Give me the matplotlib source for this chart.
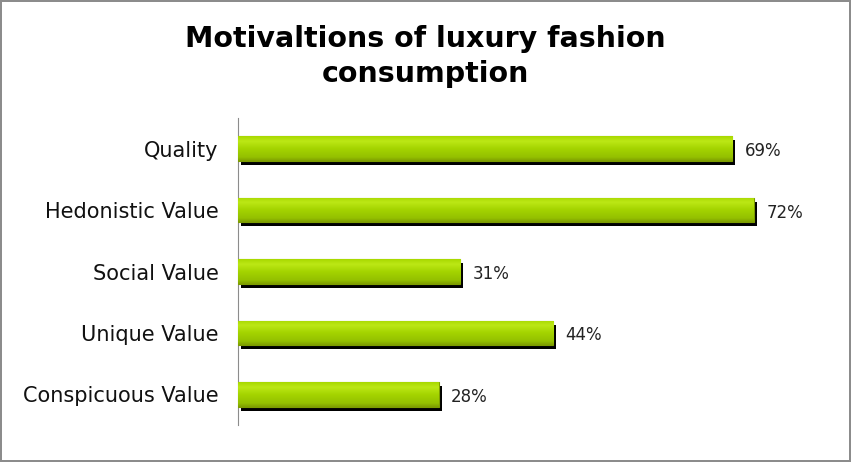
import numpy as np
import matplotlib
matplotlib.use('Agg')
import matplotlib.pyplot as plt
import matplotlib.transforms as mtransforms
from matplotlib.colors import LinearSegmentedColormap

categories = ['Quality', 'Hedonistic Value', 'Social Value', 'Unique Value', 'Conspicuous Value']
values = [69, 72, 31, 44, 28]
labels = ['69%', '72%', '31%', '44%', '28%']

fig = plt.figure(figsize=(8.51, 4.62), dpi=100)
fig.patch.set_edgecolor('#8c8c8c')
fig.patch.set_linewidth(1.5)
ax = fig.add_axes([238 / 851, 1 - 425 / 462, 573 / 851, 307 / 462])

ypos = np.arange(len(categories))[::-1]
h = 0.4

# drop shadow, shifted a few pixels right and down
shadow_tr = mtransforms.offset_copy(ax.transData, fig=fig, x=3, y=-4, units='dots')
ax.barh(ypos, values, height=h, color='black', transform=shadow_tr, zorder=2)

bars = ax.barh(ypos, values, height=h, color='#a4d400', edgecolor='#7c9c00',
               linewidth=0.8, zorder=3)

cmap = LinearSegmentedColormap.from_list(
    'g', [(0, '#7f9f00'), (0.15, '#94c000'), (0.5, '#a4d400'), (0.8, '#bce816'), (1, '#a8d800')])
grad = np.linspace(0, 1, 64).reshape(-1, 1)
for b in bars:
    x0, y0 = b.get_x(), b.get_y()
    im = ax.imshow(grad, cmap=cmap, aspect='auto', origin='lower',
                   extent=[x0, x0 + b.get_width(), y0, y0 + b.get_height()], zorder=3)
    im.set_clip_path(b)

for y, v, lab in zip(ypos, values, labels):
    ax.text(v + 1.75, y - 0.04, lab, va='center', ha='left', fontsize=12, color='#222222')

ax.set_xlim(0, 80)
ax.set_ylim(-0.5, 4.5)
ax.set_yticks(ypos)
ax.set_yticklabels(categories, fontsize=15, color='#111111')
ax.tick_params(axis='y', length=0, pad=14)
ax.set_xticks([])
for s in ['top', 'right', 'bottom']:
    ax.spines[s].set_visible(False)
ax.spines['left'].set_color('#8c8c8c')

fig.text(0.5, 0.878, 'Motivaltions of luxury fashion\nconsumption', ha='center', va='center',
         fontsize=20.5, fontweight='bold', linespacing=1.3)

fig.savefig('out.png', dpi=100)
